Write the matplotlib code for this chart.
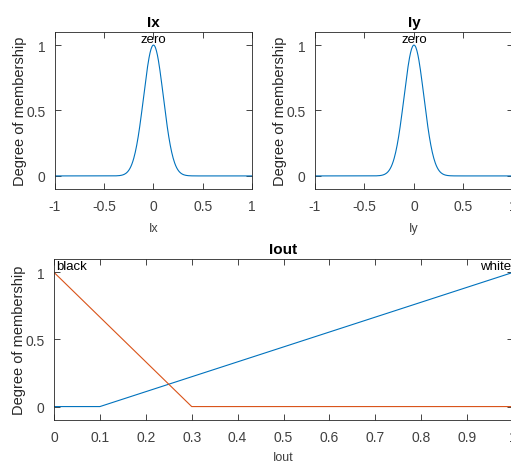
import numpy as np
import matplotlib
matplotlib.use('Agg')
import matplotlib.pyplot as plt

# membership functions
ix_range = [-1, 1]
ix_gauss = [0.1, 0.0]      # sigma, centre of "zero"
iy_range = [-1, 1]
iy_gauss = [0.1, 0.0]
iout_range = [0, 1]
black_x = [0, 0.3, 1]
black_y = [1, 0, 0]
white_x = [0, 0.1, 1]
white_y = [0, 0, 1]

ix_ticks = [-1, -0.5, 0, 0.5, 1]
ix_ticklabels = ['-1', '-0.5', '0', '0.5', '1']
iout_ticks = [0, 0.1, 0.2, 0.3, 0.4, 0.5, 0.6, 0.7, 0.8, 0.9, 1]
iout_ticklabels = ['0', '0.1', '0.2', '0.3', '0.4', '0.5', '0.6', '0.7', '0.8', '0.9', '1']
y_ticks = [0, 0.5, 1]
y_ticklabels = ['0', '0.5', '1']

blue = '#0072BD'
orange = '#D95319'
grey = '#262626'

plt.rcParams['font.family'] = ['Liberation Sans', 'DejaVu Sans']


def style_axes(ax, xlim, xticks, xlabels, xlabel, title, xpad=7):
    ax.set_xlim(xlim)
    ax.set_ylim(-0.1, 1.1)
    ax.set_xticks(xticks)
    ax.set_xticklabels(xlabels)
    ax.set_yticks(y_ticks)
    ax.set_yticklabels(y_ticklabels)
    ax.tick_params(direction='in', top=True, right=True, length=4, width=0.6,
                   colors=grey, labelcolor='#404040', labelsize=10, pad=7)
    for sp in ax.spines.values():
        sp.set_color(grey)
        sp.set_linewidth(0.6)
    ax.set_xlabel(xlabel, fontsize=9, color='#404040', labelpad=xpad)
    ax.set_ylabel('Degree of membership', fontsize=10.5, color='#262626', labelpad=-1)
    ax.set_title(title, fontsize=11, fontweight='bold', pad=4)


fig = plt.figure(figsize=(5.11, 4.64), dpi=100)

ax1 = fig.add_axes([0.1076, 0.5905, 0.3855, 0.3384])
x = np.linspace(ix_range[0], ix_range[1], 401)
ax1.plot(x, np.exp(-(x - ix_gauss[1]) ** 2 / (2 * ix_gauss[0] ** 2)), color=blue, lw=0.8)
ax1.text(ix_gauss[1], 1.0, 'zero', ha='center', va='bottom', fontsize=9.5)
style_axes(ax1, ix_range, ix_ticks, ix_ticklabels, 'Ix', 'Ix')

ax2 = fig.add_axes([0.6164, 0.5905, 0.3875, 0.3384])
x = np.linspace(iy_range[0], iy_range[1], 401)
ax2.plot(x, np.exp(-(x - iy_gauss[1]) ** 2 / (2 * iy_gauss[0] ** 2)), color=blue, lw=0.8)
ax2.text(iy_gauss[1], 1.0, 'zero', ha='center', va='bottom', fontsize=9.5)
style_axes(ax2, iy_range, ix_ticks, ix_ticklabels, 'Iy', 'Iy')

ax3 = fig.add_axes([0.1057, 0.0927, 0.8982, 0.347])
ax3.plot(white_x, white_y, color=blue, lw=0.8)
ax3.plot(black_x, black_y, color=orange, lw=0.8)
ax3.text(0.005, 1.0, 'black', ha='left', va='bottom', fontsize=9.5)
ax3.text(0.995, 1.0, 'white', ha='right', va='bottom', fontsize=9.5)
style_axes(ax3, iout_range, iout_ticks, iout_ticklabels, 'Iout', 'Iout', xpad=5)

fig.savefig('out.png', dpi=100)
